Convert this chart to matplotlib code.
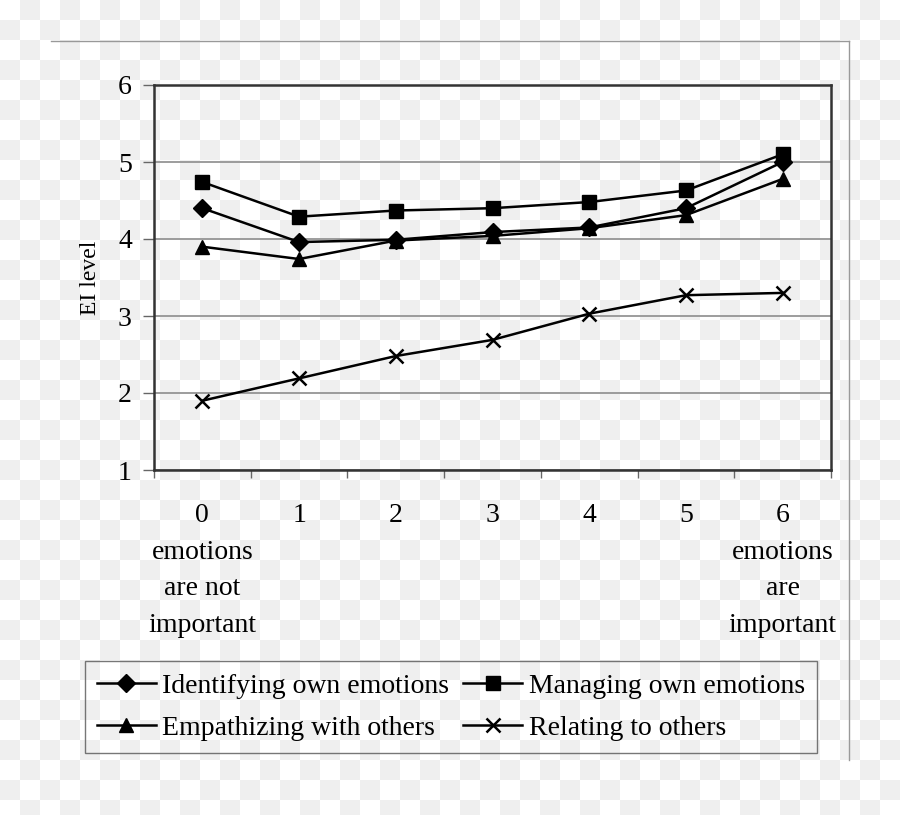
# EI level line chart (4 series, categories 0..6)

import numpy as np
import matplotlib
matplotlib.use('Agg')
import matplotlib.pyplot as plt
from matplotlib.lines import Line2D

plt.rcParams['font.family'] = ['Liberation Serif', 'DejaVu Serif']

# data
categories = [0, 1, 2, 3, 4, 5, 6]
tick_labels = ['0\nemotions\nare not\nimportant', '1', '2', '3', '4', '5',
               '6\nemotions\nare\nimportant']
identifying = [4.40, 3.96, 3.99, 4.09, 4.15, 4.40, 5.00]
managing = [4.74, 4.29, 4.37, 4.40, 4.48, 4.63, 5.10]
empathizing = [3.90, 3.74, 3.98, 4.04, 4.14, 4.31, 4.78]
relating = [1.90, 2.19, 2.48, 2.69, 3.03, 3.27, 3.30]

W, H = 900, 815
fig = plt.figure(figsize=(W / 100, H / 100), dpi=100)

# checkerboard background (transparent look of the source)
yy, xx = np.mgrid[0:H, 0:W]
chk = ((yy // 20 + xx // 20) % 2).astype(float)
bg = np.ones((H, W, 3))
bg[chk == 1] = 0.94
fig.figimage(bg, 0, 0, zorder=-10)

# outer chart frame (only top and right edges visible)
frame_kw = dict(color='#999999', lw=1.0, transform=fig.transFigure)
fig.add_artist(Line2D([51 / W, 849 / W], [1 - 41 / H, 1 - 41 / H], **frame_kw))
fig.add_artist(Line2D([849 / W, 849 / W], [1 - 41 / H, 1 - 760 / H], **frame_kw))

ax = fig.add_axes([154 / W, 1 - 470 / H, (831 - 154) / W, (470 - 85) / H])
ax.set_facecolor('none')

line_kw = dict(color='black', lw=1.8, clip_on=False)
h1, = ax.plot(categories, identifying, marker='D', markersize=9, label='Identifying own emotions', **line_kw)
h2, = ax.plot(categories, managing, marker='s', markersize=10, label='Managing own emotions', **line_kw)
h3, = ax.plot(categories, empathizing, marker='^', markersize=10, label='Empathizing with others', **line_kw)
h4, = ax.plot(categories, relating, marker='x', markersize=10, markeredgewidth=1.8,
              label='Relating to others', **line_kw)

ax.set_xlim(-0.5, 6.5)
ax.set_ylim(1, 6)
ax.set_yticks([1, 2, 3, 4, 5, 6])
ax.yaxis.grid(True, color='#8c8c8c', lw=1.2)
ax.set_axisbelow(True)

ax.set_xticks(categories)
ax.set_xticklabels(tick_labels, fontsize=20, linespacing=1.6)
ax.set_xticks(np.arange(-0.5, 7, 1), minor=True)
ax.tick_params(axis='x', which='major', length=0, pad=24)
ax.tick_params(axis='x', which='minor', length=6, width=1, color='#666666', direction='out')
ax.tick_params(axis='y', length=8, width=1, color='#666666', labelsize=20, pad=8)

for s in ax.spines.values():
    s.set_color('#333333')
    s.set_linewidth(1.8)

ax.set_ylabel('EI level', fontsize=17, labelpad=12)

# legend filled row-wise like the original
leg = fig.legend([h1, h3, h2, h4], [h.get_label() for h in (h1, h3, h2, h4)],
                 loc='center', bbox_to_anchor=(451 / W, 1 - 707 / H), ncol=2,
                 fontsize=20, handlelength=2.1, handletextpad=0.25, columnspacing=0.5,
                 labelspacing=0.6, borderpad=0.45, fancybox=False,
                 edgecolor='#555555')
leg.get_frame().set_facecolor('none')
leg.get_frame().set_linewidth(1.0)

fig.savefig('out.png', dpi=100)
